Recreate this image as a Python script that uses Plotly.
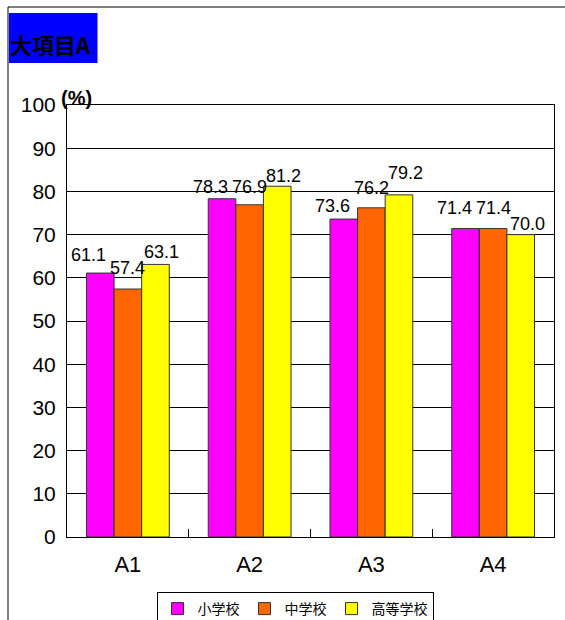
import plotly.graph_objects as go

# Survey results by item and school level (%)
categories = ["A1", "A2", "A3", "A4"]
elementary = [61.1, 78.3, 73.6, 71.4]
junior_high = [57.4, 76.9, 76.2, 71.4]
high_school = [63.1, 81.2, 79.2, 70.0]
series_names = ["小学校", "中学校", "高等学校"]
series_colors = ["#FF00FF", "#FF6600", "#FFFF00"]
y_ticks = list(range(0, 101, 10))

# Value-label placement: horizontal offset per series (px from the group
# centre) and lift above each bar top (px), per series then per category.
label_dx = [-39, 0, 34]
label_lift = [
    [18, 12, 13, 21],
    [21, 18, 20, 21],
    [12, 10, 22, 11],
]

W, H = 565, 620
L, R, T, B = 67, 11, 105, 83
PW, PH = W - L - R, H - T - B


def px_x(x):
    return (x - L) / PW


def px_y(y):
    return 1 - (y - T) / PH


NUM_FONT = "Liberation Sans, Arial, sans-serif"
CJK_FONT = "Noto Sans CJK JP, sans-serif"

fig = go.Figure()
annotations = []
all_series = [elementary, junior_high, high_school]
for i, (name, vals, color) in enumerate(zip(series_names, all_series, series_colors)):
    fig.add_trace(go.Bar(
        x=categories, y=vals, name=name,
        marker=dict(color=color, line=dict(color="#333333", width=1)),
        cliponaxis=False,
    ))
    for j, (cat, v) in enumerate(zip(categories, vals)):
        annotations.append(dict(
            x=cat, y=v, xref="x", yref="y", text=f"{v:.1f}",
            xanchor="center", yanchor="middle",
            xshift=label_dx[i], yshift=label_lift[i][j],
            showarrow=False,
            font=dict(family=NUM_FONT, size=18, color="black"),
        ))

annotations += [
    dict(text="<b>大項目A</b>", xref="paper", yref="paper",
         x=px_x(8), y=px_y(44), xanchor="left", yanchor="middle",
         showarrow=False, font=dict(family=CJK_FONT, size=22, color="black")),
    dict(text="<b>(%)</b>", xref="paper", yref="paper",
         x=px_x(76), y=px_y(98), xanchor="center", yanchor="middle",
         showarrow=False, font=dict(family=NUM_FONT, size=20, color="black")),
]

fig.update_layout(
    width=W, height=H,
    margin=dict(l=L, r=R, t=T, b=B, pad=0, autoexpand=False),
    paper_bgcolor="white", plot_bgcolor="white",
    barmode="group", bargap=0.32, bargroupgap=0,
    font=dict(family=NUM_FONT, color="black"),
    showlegend=True,
    legend=dict(
        orientation="h", x=px_x(295), xanchor="center",
        y=px_y(592), yanchor="top",
        bordercolor="black", borderwidth=1, bgcolor="white",
        font=dict(family=CJK_FONT, size=14, color="black"),
        itemwidth=30, tracegroupgap=0,
    ),
    xaxis=dict(
        type="category", showline=True, linecolor="black", linewidth=1, mirror=True,
        ticks="inside", tickson="boundaries", ticklen=8, tickcolor="black",
        tickfont=dict(family=NUM_FONT, size=22), ticklabelstandoff=8,
        showgrid=False, fixedrange=True,
    ),
    yaxis=dict(
        range=[0, 100], tickvals=y_ticks, showline=True, linecolor="black",
        linewidth=1, mirror=True, showgrid=True, gridcolor="black", gridwidth=1,
        ticks="", tickfont=dict(family=NUM_FONT, size=21), ticklabelstandoff=6,
        zeroline=False, fixedrange=True,
    ),
    shapes=[
        # outer frame
        dict(type="rect", xref="paper", yref="paper",
             x0=px_x(8), x1=px_x(600), y0=px_y(660), y1=px_y(7),
             line=dict(color="black", width=1), fillcolor="rgba(0,0,0,0)", layer="below"),
        # title box
        dict(type="rect", xref="paper", yref="paper",
             x0=px_x(9), x1=px_x(97.5), y0=px_y(63), y1=px_y(13),
             line=dict(width=0), fillcolor="#0000FF"),
    ],
    annotations=annotations,
)

fig.write_html("out.html")
